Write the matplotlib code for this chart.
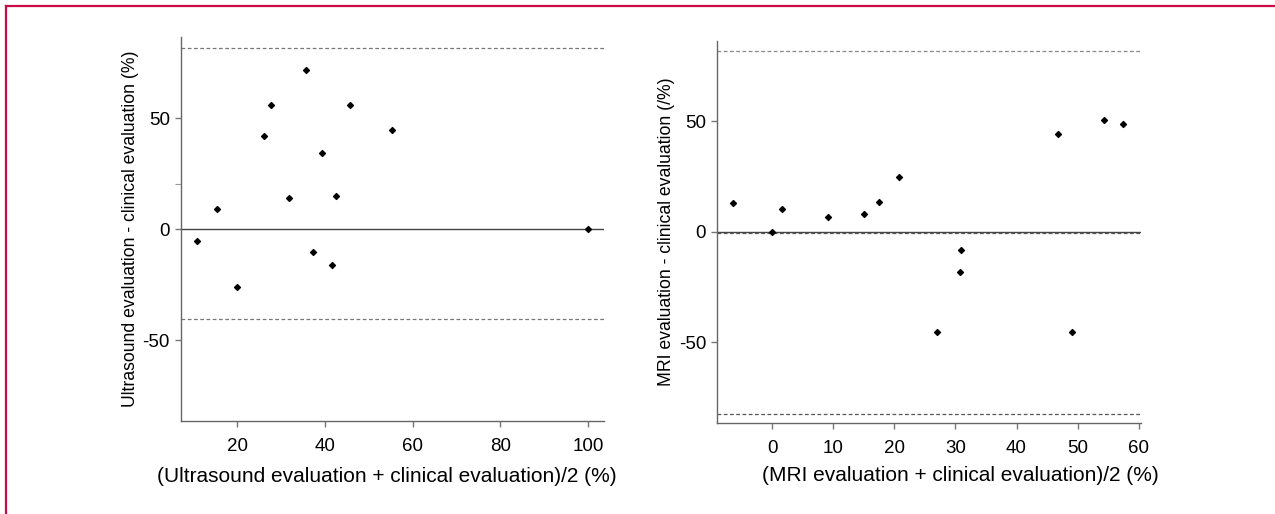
import matplotlib.pyplot as plt
from matplotlib.lines import Line2D

plt.rcParams['font.family'] = ['Liberation Sans', 'DejaVu Sans']

# Bland-Altman: ultrasound vs clinical evaluation
us_mean = [10.9, 15.5, 20.0, 26.0, 27.7, 31.9, 35.6, 37.3, 39.3, 41.5, 42.5, 45.6, 55.3, 100.0]
us_diff = [-5.1, 9.3, -26.0, 42.0, 56.0, 14.2, 71.9, -10.4, 34.5, -16.1, 14.9, 56.0, 44.7, 0.3]
us_upper, us_bias, us_lower = 81.5, 20.5, -40.5

# Bland-Altman: MRI vs clinical evaluation
mri_mean = [-6.4, 0.0, 1.6, 9.1, 15.0, 17.5, 20.8, 27.0, 30.7, 30.9, 46.8, 49.1, 54.4, 57.5]
mri_diff = [12.8, 0.0, 10.1, 6.8, 8.1, 13.4, 24.9, -45.5, -18.4, -8.4, 44.0, -45.2, 50.6, 48.7]
mri_upper, mri_bias, mri_lower = 81.8, -0.4, -82.5

fig = plt.figure(figsize=(12.75, 5.14), dpi=100)

# red frame line at top and left
fig.add_artist(Line2D([0.0047, 1.0], [0.988, 0.988], color='#cc0a47', lw=1.6))
fig.add_artist(Line2D([0.0047, 0.0047], [0.0, 0.988], color='#cc0a47', lw=1.6))

ax1 = fig.add_axes([0.142, 0.1815, 0.3317, 0.7465])
ax2 = fig.add_axes([0.5626, 0.1776, 0.3324, 0.7432])


def estilo(ax):
    for s in ['top', 'right']:
        ax.spines[s].set_visible(False)
    for s in ['left', 'bottom']:
        ax.spines[s].set_color('#666666')
        ax.spines[s].set_linewidth(1.0)
    ax.tick_params(axis='both', direction='out', length=4.5, width=1.0,
                   color='#777777', labelsize=13.5)
    ax.tick_params(axis='x', pad=8)
    ax.tick_params(axis='y', pad=3.5)
    ax.set_yticks([-50, 0, 50])
    ax.set_yticklabels(['-50', '0', '50'])


# left panel
ax1.scatter(us_mean, us_diff, s=9, color='black', marker='D', zorder=3)
ax1.axhline(0, color='#444444', lw=1.0)
ax1.axhline(us_upper, color='#777777', lw=0.9, ls=(0, (3, 2)))
ax1.axhline(us_lower, color='#777777', lw=0.9, ls=(0, (3, 2)))
ax1.set_xlim(7.2, 103.6)
ax1.set_ylim(-86.2, 86.6)
estilo(ax1)
ax1.set_xticks([20, 40, 60, 80, 100])
ax1.set_yticks([us_bias], minor=True)
ax1.tick_params(axis='y', which='minor', length=4.5, width=0.8, color='#999999')
ax1.set_xlabel('(Ultrasound evaluation + clinical evaluation)/2 (%)', fontsize=15)
ax1.set_ylabel('Ultrasound evaluation - clinical evaluation (%)', fontsize=12.7)
ax1.xaxis.set_label_coords(0.486, -0.12)
ax1.yaxis.set_label_coords(-0.10, 0.5)

# right panel
ax2.scatter(mri_mean, mri_diff, s=9, color='black', marker='D', zorder=3)
ax2.axhline(0, color='#444444', lw=1.0)
ax2.axhline(mri_bias, color='#555555', lw=0.9, ls=(0, (3, 2)))
ax2.axhline(mri_upper, color='#888888', lw=0.9, ls=(0, (3, 2)))
ax2.axhline(mri_lower, color='#555555', lw=0.9, ls=(0, (3, 2)))
ax2.set_xlim(-9.0, 60.4)
ax2.set_ylim(-86.3, 86.3)
estilo(ax2)
ax2.set_xticks([0, 10, 20, 30, 40, 50, 60])
ax2.set_xlabel('(MRI evaluation + clinical evaluation)/2 (%)', fontsize=15)
ax2.set_ylabel('MRI evaluation - clinical evaluation (/%)', fontsize=12.7)
ax2.xaxis.set_label_coords(0.573, -0.113)
ax2.yaxis.set_label_coords(-0.10, 0.5)

fig.savefig('out.png', dpi=100)
